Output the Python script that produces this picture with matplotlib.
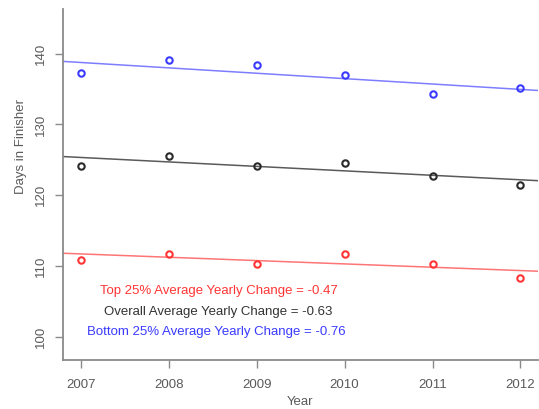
import matplotlib
matplotlib.use("Agg")
import matplotlib.pyplot as plt
import numpy as np

plt.rcParams['font.family'] = ['Liberation Sans', 'DejaVu Sans']

years = [2007, 2008, 2009, 2010, 2011, 2012]
bottom25 = [137.2, 139.15, 138.4, 137.0, 134.25, 135.1]
overall = [124.1, 125.6, 124.2, 124.55, 122.7, 121.45]
top25 = [110.9, 111.75, 110.35, 111.75, 110.25, 108.3]

# average yearly change (slope of the trend line) per group
slope_top = -0.47
slope_overall = -0.63
slope_bottom = -0.76

yticks = [100, 110, 120, 130, 140]

fig = plt.figure(figsize=(5.39, 4.09), dpi=100)
ax = fig.add_axes([63.3 / 539, 1 - 360 / 409, (538 - 63.3) / 539, (360 - 9) / 409])

xlim = (2006.8, 2012.2)
ax.set_xlim(*xlim)
ax.set_ylim(96.75, 146.3)

groups = [
    (top25, slope_top, '#ff3535', '#ff7575'),
    (overall, slope_overall, '#2a2a2a', '#5a5a5a'),
    (bottom25, slope_bottom, '#3a3aff', '#7d7dff'),
]
xs = np.array(years, dtype=float)
xline = np.array(xlim)
for vals, slope, pc, lc in groups:
    v = np.array(vals)
    xm, ym = xs.mean(), v.mean()
    ax.plot(xline, ym + slope * (xline - xm), color=lc, lw=1.1, zorder=2)
    ax.plot(xs, v, linestyle='none', marker='o', ms=4.6, mfc='none',
            mec=pc, mew=1.5, zorder=3)

for s in ['top', 'right']:
    ax.spines[s].set_visible(False)
for s in ['left', 'bottom']:
    ax.spines[s].set_color('#8a8a8a')
    ax.spines[s].set_linewidth(1.3)

ax.set_xticks(years)
ax.set_yticks(yticks)
ax.tick_params(axis='both', colors='#8a8a8a', length=6, width=1.0,
               labelcolor='#5a5a5a', labelsize=9.5)
ax.tick_params(axis='x', pad=8)
ax.tick_params(axis='y', pad=6)
for lab in ax.get_yticklabels():
    lab.set_rotation(90)
    lab.set_va('center')

fig.text(300 / 539, 1 - 402 / 409, 'Year', ha='center', va='center',
         fontsize=9.5, color='#5a5a5a')
fig.text(21 / 539, 1 - 146 / 409, 'Days in Finisher', ha='center', va='center',
         rotation=90, fontsize=9.5, color='#5a5a5a')

labels = [
    ('Top 25% Average Yearly Change = {:.2f}'.format(slope_top), '#ff3535', 219, 291),
    ('Overall Average Yearly Change = {:.2f}'.format(slope_overall), '#333333', 218, 312),
    ('Bottom 25% Average Yearly Change = {:.2f}'.format(slope_bottom), '#3a3aff', 216, 332),
]
for txt, c, px, py in labels:
    fig.text(px / 539, 1 - py / 409, txt, ha='center', va='center',
             fontsize=9.5, color=c)

fig.savefig('out.png', dpi=100)
